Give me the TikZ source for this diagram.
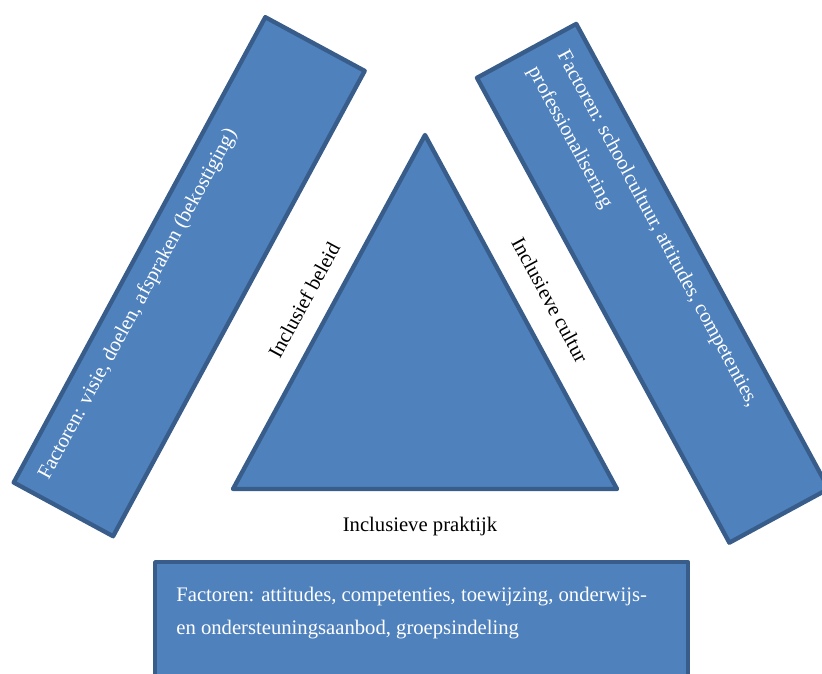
\documentclass[tikz,border=0pt]{standalone}
\usepackage{fontspec}
\setmainfont{Liberation Serif}
\definecolor{FactorBlue}{RGB}{79,129,189}
\definecolor{FactorEdge}{RGB}{56,93,138}
\usepackage{tikz}
\tikzset{
  factorbox/.style={draw=FactorEdge, fill=FactorBlue, line width=2.6pt, line join=round, inner sep=0pt},
  factortext/.style={text=white, font=\fontsize{12.4}{20}\selectfont, align=left, inner xsep=12pt, inner ysep=10.3pt},
  sidelabel/.style={font=\fontsize{12.4}{14}\selectfont, inner sep=0pt}
}

\begin{document}
\begin{tikzpicture}[x=0.6pt, y=-0.6pt]
  \useasboundingbox (0,0) rectangle (822,674);

  % the three factor boxes
  \node[factorbox, rotate=61.6, minimum width=317.4pt, minimum height=67.8pt] (beleidbox) at (189.2,276.7) {};
  \node[factortext, rotate=61.6, anchor=north west] (beleidtext) at (beleidbox.north west)
    {Factoren: visie, doelen, afspraken (bekostiging)};

  \node[factorbox, rotate=-61.5, minimum width=317.4pt, minimum height=67.8pt] (cultuurbox) at (652.8,283.3) {};
  \node[factortext, rotate=-61.5, anchor=north west, inner ysep=11.5pt] (cultuurtext) at (cultuurbox.north west)
    {Factoren: schoolcultuur, attitudes, competenties,\\ professionalisering};

  \node[factorbox, anchor=north west, minimum width=319.8pt, minimum height=100pt] (praktijkbox) at (153,560) {};
  \node[factortext, anchor=north west, inner xsep=13.8pt, inner ysep=16pt] (praktijktext) at (praktijkbox.north west)
    {Factoren: attitudes, competenties, toewijzing, onderwijs-\\ en ondersteuningsaanbod, groepsindeling};

  % triangle in the middle
  \coordinate (tritop) at (425,135);
  \coordinate (trileft) at (233,489);
  \coordinate (triright) at (617,489);
  \draw[factorbox] (tritop) -- (trileft) -- (triright) -- cycle;

  % side labels
  \node[sidelabel, rotate=61.5] (beleid) at (304,300) {Inclusief beleid};
  \node[sidelabel, rotate=-61.5] (cultuur) at (550,300) {Inclusieve cultur};
  \node[sidelabel] (praktijk) at (420,527) {Inclusieve praktijk};
\end{tikzpicture}
\end{document}
